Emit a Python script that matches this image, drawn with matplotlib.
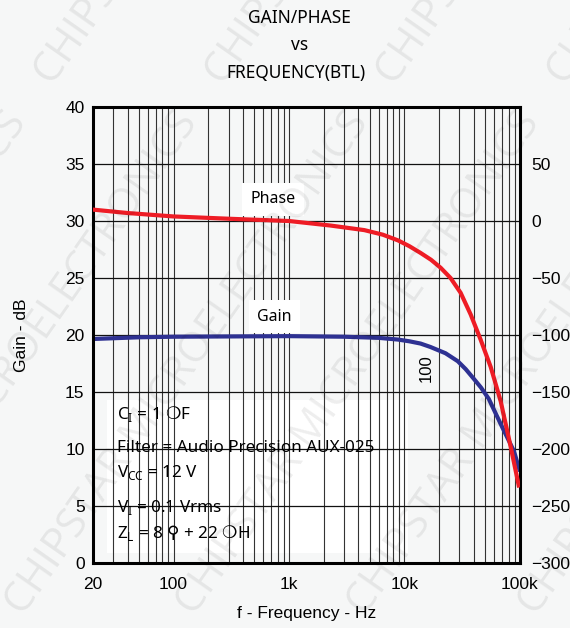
import matplotlib
matplotlib.use("Agg")
import matplotlib.pyplot as plt
from matplotlib.ticker import FixedLocator, LogLocator, NullFormatter, FixedFormatter
from matplotlib.patches import Rectangle

# values
phase_freq = [20, 40, 100, 300, 1000, 2300, 4500, 6500, 8800, 11000, 13800, 17000,
              20600, 25100, 30700, 37500, 45700, 55900, 68200, 83300, 97800]
phase_deg = [10, 7, 4, 2, 0, -4, -8, -12, -17, -22, -28, -34,
             -41, -50, -63, -82, -104, -128, -158, -198, -232]

gain_freq = [20, 50, 100, 1000, 3000, 6000, 8800, 11000, 13800, 16800, 22700, 29000,
             34000, 39600, 46000, 53800, 68200, 89000, 99000]
gain_db = [19.65, 19.8, 19.85, 19.9, 19.85, 19.75, 19.6, 19.45, 19.25, 18.95, 18.4, 17.7,
           17.0, 16.2, 15.4, 14.4, 12.2, 9.8, 8.2]

x_ticks = [20, 100, 1000, 10000, 100000]
x_labels = ["20", "100", "1k", "10k", "100k"]
gain_ticks = list(range(0, 45, 5))
phase_ticks = list(range(-300, 100, 50))

conditions = [
    r"C$_\mathrm{I}$ = 1 $\mathsf{❍}$F",
    "Filter = Audio Precision AUX-025",
    r"V$_\mathrm{CC}$ = 12 V",
    r"V$_\mathrm{I}$ = 0.1 Vrms",
    r"Z$_\mathrm{L}$ = 8 $\mathsf{⚲}$ + 22 $\mathsf{❍}$H",
]
condition_y = [0.327, 0.252, 0.198, 0.121, 0.066]

BG = "#f6f7f7"
RED = "#ee1c25"
BLUE = "#2e3192"

plt.rcParams["font.family"] = ["Liberation Sans", "DejaVu Sans"]
plt.rcParams["mathtext.fontset"] = "custom"
plt.rcParams["mathtext.rm"] = "Noto Sans"
plt.rcParams["mathtext.sf"] = "DejaVu Sans"

fig = plt.figure(figsize=(5.7, 6.28), dpi=100, facecolor=BG)
ax = fig.add_axes([0.163, 0.1035, 0.749, 0.7261])
ax.set_facecolor(BG)

# watermark
for k in range(-3, 5):
    fig.text(0.05 + k * 0.3, 0.45, "CHIPSTAR MICROELECTRONICS    " * 3,
             rotation=55, ha="center", va="center", fontsize=30,
             family=["Open Sans", "DejaVu Sans"], color="#000000", alpha=0.07,
             zorder=20, clip_on=True)

ax.set_xscale("log")
ax.set_xlim(20, 100000)
ax.set_ylim(0, 40)

ax.xaxis.set_major_locator(FixedLocator(x_ticks))
ax.xaxis.set_major_formatter(FixedFormatter(x_labels))
ax.xaxis.set_minor_locator(LogLocator(base=10, subs=range(2, 10), numticks=20))
ax.xaxis.set_minor_formatter(NullFormatter())
ax.set_yticks(gain_ticks)

ax.grid(True, which="both", axis="x", color="#333333", lw=0.8, zorder=0)
ax.grid(True, which="major", axis="y", color="#111111", lw=0.9, zorder=0)
ax.tick_params(which="both", length=0, labelsize=12.5)
ax.tick_params(axis="y", pad=6)
ax.tick_params(axis="x", pad=10)

for s in ax.spines.values():
    s.set_linewidth(2.2)
    s.set_zorder(6)

ax.add_patch(Rectangle((0.033, 0.022), 0.705, 0.335, transform=ax.transAxes,
                       facecolor="white", edgecolor="none", zorder=1.5))
for txt, y in zip(conditions, condition_y):
    ax.text(0.056, y, txt, transform=ax.transAxes, ha="left", va="center",
            fontsize=12.3, family=["Noto Sans", "DejaVu Sans"], zorder=3)

ax.plot(gain_freq, gain_db, color=BLUE, lw=3, solid_joinstyle="round", zorder=4)

ax.text(730, 31.9, "Phase", ha="center", va="center", fontsize=11.5,
        family=["Noto Sans"], zorder=3,
        bbox=dict(facecolor="white", edgecolor="none", pad=6))
ax.text(750, 21.6, "Gain", ha="center", va="center", fontsize=11.5,
        family=["Noto Sans"], zorder=3,
        bbox=dict(facecolor="white", edgecolor="none", pad=6))
ax.text(15500, 17.1, "100", rotation=90, ha="center", va="center",
        fontsize=12, zorder=3)

ax.set_xlabel("f - Frequency - Hz", fontsize=12.5, labelpad=10)
ax.set_ylabel("Gain - dB", fontsize=12.5, labelpad=26)

ax2 = ax.twinx()
ax2.set_ylim(-300, 100)
ax2.set_yticks(phase_ticks)
ax2.tick_params(length=0, labelsize=12.5, pad=8)
ax2.patch.set_visible(False)
for s in ax2.spines.values():
    s.set_visible(False)
ax2.plot(phase_freq, phase_deg, color=RED, lw=3, solid_joinstyle="round", zorder=4)

fig.text(0.526, 0.972, "GAIN/PHASE", ha="center", va="center", fontsize=12.5,
         family=["Noto Sans"])
fig.text(0.526, 0.928, "vs", ha="center", va="center", fontsize=12.5,
         family=["Noto Sans"])
fig.text(0.52, 0.884, "FREQUENCY(BTL)", ha="center", va="center", fontsize=12.5,
         family=["Noto Sans"])

fig.savefig("out.png", dpi=100, facecolor=BG)
